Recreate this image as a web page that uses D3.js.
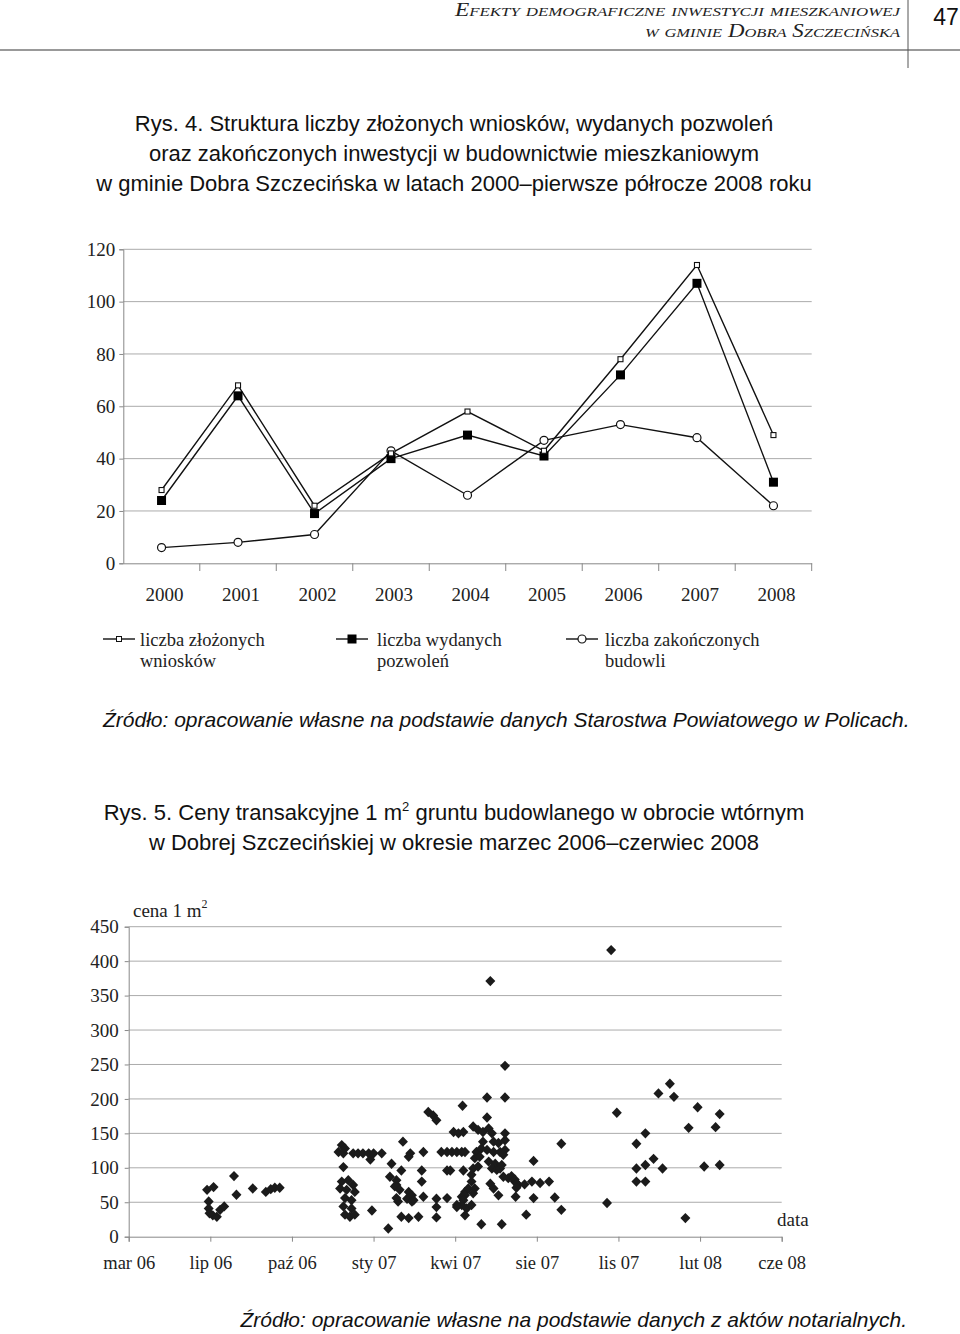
<!DOCTYPE html>
<html><head><meta charset="utf-8">
<script src="https://cdn.jsdelivr.net/npm/d3@7"></script>
<style>body{margin:0;background:#fff}</style>
</head><body>
<svg id="c" width="960" height="1334" xmlns="http://www.w3.org/2000/svg"></svg>
<script>
// ---------- Chart 1 data ----------
const years = ["2000","2001","2002","2003","2004","2005","2006","2007","2008"];
const wnioski = [28, 68, 22, 42, 58, 43, 78, 114, 49];      // liczba złożonych wniosków
const pozwolenia = [24, 64, 19, 40, 49, 41, 72, 107, 31];   // liczba wydanych pozwoleń
const budowle = [6, 8, 11, 43, 26, 47, 53, 48, 22];         // liczba zakończonych budowli
const yTicks1 = [0, 20, 40, 60, 80, 100, 120];
const legendNames = [["liczba złożonych","wniosków"],["liczba wydanych","pozwoleń"],["liczba zakończonych","budowli"]];

// ---------- Chart 2 data (dates as Excel serial numbers) ----------
const xTickSerials = [38800, 38900, 39000, 39100, 39200, 39300, 39400, 39500, 39600];
const xTickLabels2 = ["mar 06","lip 06","paź 06","sty 07","kwi 07","sie 07","lis 07","lut 08","cze 08"];
const yTicks2 = [0, 50, 100, 150, 200, 250, 300, 350, 400, 450];
const txDates = [
 38896,38904,38898,38898,38899,38903,38908,38912,38917,38929,38932,38952,38968,38974,38979,38985,
 39061,39057,39063,39065,39075,39081,39087,39094,39100,39110,39096,39063,39122,
 39061,39069,39075,39059,39067,39077,39065,39073,39063,39073,39065,39071,39077,39098,39118,
 39167,39173,39177,39136,39145,39143,39161,39183,39190,39196,39202,39208,39212,
 39134,39159,39190,39194,39159,39128,39143,39141,39147,39161,39130,39177,39190,39177,39202,
 39134,39143,39155,39177,39120,39128,39126,39132,39128,39147,39149,39210,39212,39208,
 39209,39239,39261,39239,39222,39228,39234,39241,39245,39198,39204,39210,39261,39261,
 39234,39247,39253,39226,39232,39239,39247,39255,39261,39224,39230,39241,39249,
 39222,39228,39220,39245,39251,39255,39259,39265,39273,39277,39220,39216,39212,39210,39208,
 39243,39247,39224,39222,39253,39202,39214,39220,39212,39232,39257,39243,39261,39259,39257,
 39330,39296,39269,39273,39275,39275,39274,39285,39294,39304,39315,39296,39322,39330,39287,
 39386,39391,39398,39422,39433,39422,39433,39443,39454,39422,39433,39449,39463,39468,39482,
 39486,39497,39505,39519,39524,39524
];
const txPrices = [
 68,72,51,41,34,31,29,39,44,88,61,70,65,69,71,71,
 133,123,121,128,121,121,121,121,121,121,112,101,106,
 80,82,75,70,68,65,56,53,44,41,32,29,32,38,12,
 181,176,169,138,121,116,123,123,123,123,123,123,123,
 96,96,96,96,80,75,65,55,51,58,51,55,56,43,43,
 29,27,29,28,87,82,73,68,56,60,53,96,65,58,
 190,202,202,173,160,155,152,157,150,152,150,152,150,140,
 138,138,136,123,128,126,123,123,126,114,116,109,106,
 99,102,90,99,97,99,87,85,80,75,80,70,60,53,46,
 77,70,70,63,60,46,41,46,31,18,18,371,248,119,104,
 135,110,88,83,78,71,58,76,80,78,80,56,57,39,32,
 49,416,180,135,150,99,104,113,99,80,80,208,222,203,27,
 158,188,102,159,178,104
];

const svg = d3.select("#c");
const serif = "'Liberation Serif','Times New Roman',serif";
const sans = "'Liberation Sans',Arial,sans-serif";
const gridCol = "#ababab";

// ---------- Header ----------
svg.append("text").attr("x", 900).attr("y", 16).attr("text-anchor","end")
  .attr("font-family", serif).attr("font-style","italic").attr("font-size",18)
  .attr("textLength",445).attr("lengthAdjust","spacingAndGlyphs")
  .style("font-variant","small-caps").attr("fill","#222")
  .text("Efekty demograficzne inwestycji mieszkaniowej");
svg.append("text").attr("x", 900).attr("y", 37).attr("text-anchor","end")
  .attr("font-family", serif).attr("font-style","italic").attr("font-size",18)
  .attr("textLength",255).attr("lengthAdjust","spacingAndGlyphs")
  .style("font-variant","small-caps").attr("fill","#222")
  .text("w gminie Dobra Szczecińska");
svg.append("text").attr("x", 946).attr("y", 25).attr("text-anchor","middle")
  .attr("font-family","'Liberation Sans Narrow','Arial Narrow',sans-serif").attr("font-size",23)
  .attr("fill","#111").text("47");
svg.append("line").attr("x1",0).attr("x2",960).attr("y1",50).attr("y2",50).attr("stroke","#777").attr("stroke-width",1.5);
svg.append("line").attr("x1",908).attr("x2",908).attr("y1",0).attr("y2",68).attr("stroke","#555").attr("stroke-width",1);

// ---------- Title 1 ----------
const t1 = ["Rys. 4. Struktura liczby złożonych wniosków, wydanych pozwoleń",
            "oraz zakończonych inwestycji w budownictwie mieszkaniowym",
            "w gminie Dobra Szczecińska w latach 2000–pierwsze półrocze 2008 roku"];
t1.forEach((s,i)=> svg.append("text").attr("x",454).attr("y",131+30*i).attr("text-anchor","middle")
  .attr("font-family",sans).attr("font-size",22).attr("fill","#111").text(s));

// ---------- Chart 1 ----------
const x1 = d3.scaleBand().domain(years).range([123.3, 811.7]);
const y1 = d3.scaleLinear().domain([0,120]).range([563.3, 249.3]);
const g1 = svg.append("g");
g1.selectAll("line.grid").data(yTicks1.filter(d=>d>0)).join("line")
  .attr("x1",123.3).attr("x2",811.7).attr("y1",d=>y1(d)).attr("y2",d=>y1(d))
  .attr("stroke",gridCol).attr("stroke-width",1);
const ax1 = g1.append("g").attr("transform","translate(123.3,0)")
  .call(d3.axisLeft(y1).tickValues(yTicks1).tickSize(4).tickPadding(4));
ax1.select(".domain").attr("stroke","#888");
ax1.selectAll(".tick line").attr("stroke","#888");
ax1.selectAll("text").attr("font-family",serif).attr("font-size",19).attr("fill","#222");
const bx1 = g1.append("g").attr("transform","translate(0,563.3)")
  .call(d3.axisBottom(x1).tickSize(0).tickPadding(0).tickFormat(d=>d));
bx1.select(".domain").attr("stroke","#888");
bx1.selectAll(".tick line").remove();
bx1.selectAll("text").attr("font-family",serif).attr("font-size",19).attr("fill","#222")
  .attr("dx",3).attr("y",38).attr("dy",0);
// category tick marks at band boundaries
g1.selectAll("line.tk").data(years.slice(1).concat(["end"])).join("line")
  .attr("x1",(d,i)=> x1.range()[0] + x1.step()*(i+1)).attr("x2",(d,i)=> x1.range()[0] + x1.step()*(i+1))
  .attr("y1",563.3).attr("y2",571).attr("stroke","#888");

const cx = d => x1(d) + x1.bandwidth()/2;
const line1 = d3.line().x((d,i)=>cx(years[i])).y(d=>y1(d));
[wnioski,pozwolenia,budowle].forEach(s=>{
  g1.append("path").attr("d",line1(s)).attr("fill","none").attr("stroke","#111").attr("stroke-width",1.4);
});
g1.selectAll("circle.b").data(budowle).join("circle")
  .attr("cx",(d,i)=>cx(years[i])).attr("cy",d=>y1(d)).attr("r",4)
  .attr("fill","#fff").attr("stroke","#111").attr("stroke-width",1.2);
g1.selectAll("rect.p").data(pozwolenia).join("rect")
  .attr("x",(d,i)=>cx(years[i])-4.5).attr("y",d=>y1(d)-4.5).attr("width",9).attr("height",9).attr("fill","#000");
g1.selectAll("rect.w").data(wnioski).join("rect")
  .attr("x",(d,i)=>cx(years[i])-2.5).attr("y",d=>y1(d)-2.5).attr("width",5).attr("height",5)
  .attr("fill","#fff").attr("stroke","#111").attr("stroke-width",1.1);

// legend
const legX = [103, 336, 566];
legendNames.forEach((nm,i)=>{
  const lg = svg.append("g");
  lg.append("line").attr("x1",legX[i]).attr("x2",legX[i]+32).attr("y1",639).attr("y2",639).attr("stroke","#111").attr("stroke-width",1.4);
  const mx = legX[i]+16;
  if(i===0) lg.append("rect").attr("x",mx-2.5).attr("y",636.5).attr("width",5).attr("height",5).attr("fill","#fff").attr("stroke","#111");
  if(i===1) lg.append("rect").attr("x",mx-4.5).attr("y",634.5).attr("width",9).attr("height",9).attr("fill","#000");
  if(i===2) lg.append("circle").attr("cx",mx).attr("cy",639).attr("r",4).attr("fill","#fff").attr("stroke","#111").attr("stroke-width",1.2);
  nm.forEach((s,j)=> lg.append("text").attr("x",legX[i]+(i===0?37:i===1?41:39)).attr("y",646+21*j)
    .attr("font-family",serif).attr("font-size",18.5).attr("fill","#222").text(s));
});

svg.append("text").attr("x",103).attr("y",727).attr("font-family",sans).attr("font-style","italic")
  .attr("font-size",21).attr("fill","#111").text("Źródło: opracowanie własne na podstawie danych Starostwa Powiatowego w Policach.");

// ---------- Title 2 ----------
const tt = svg.append("text").attr("x",454).attr("y",820).attr("text-anchor","middle")
  .attr("font-family",sans).attr("font-size",22).attr("fill","#111");
tt.append("tspan").text("Rys. 5. Ceny transakcyjne 1 m");
tt.append("tspan").attr("font-size",13).attr("dy",-9).text("2");
tt.append("tspan").attr("dy",9).text(" gruntu budowlanego w obrocie wtórnym");
svg.append("text").attr("x",454).attr("y",850).attr("text-anchor","middle")
  .attr("font-family",sans).attr("font-size",22).attr("fill","#111")
  .text("w Dobrej Szczecińskiej w okresie marzec 2006–czerwiec 2008");

// ---------- Chart 2 ----------
const x2 = d3.scaleLinear().domain([38800,39600]).range([128.7, 781.7]);
const y2 = d3.scaleLinear().domain([0,450]).range([1236.7, 926.7]);
const g2 = svg.append("g");
g2.selectAll("line.grid").data(yTicks2.filter(d=>d>0)).join("line")
  .attr("x1",128.7).attr("x2",781.7).attr("y1",d=>y2(d)).attr("y2",d=>y2(d))
  .attr("stroke",gridCol).attr("stroke-width",1);
const ax2 = g2.append("g").attr("transform","translate(128.7,0)")
  .call(d3.axisLeft(y2).tickValues(yTicks2).tickSize(4).tickPadding(6));
ax2.select(".domain").attr("stroke","#888");
ax2.selectAll(".tick line").attr("stroke","#888");
ax2.selectAll("text").attr("font-family",serif).attr("font-size",19).attr("fill","#222");
const bx2 = g2.append("g").attr("transform","translate(0,1236.7)")
  .call(d3.axisBottom(x2).tickValues(xTickSerials).tickSize(5).tickPadding(0)
    .tickFormat((d,i)=>xTickLabels2[i]));
bx2.select(".domain").attr("stroke","#888");
bx2.selectAll(".tick line").attr("stroke","#888");
bx2.selectAll("text").attr("font-family",serif).attr("font-size",18.5).attr("fill","#222")
  .attr("y",32).attr("dy",0);

const diamond = "M0,-5.2L5,0L0,5.2L-5,0Z";
g2.selectAll("path.pt").data(txDates).join("path")
  .attr("d",diamond).attr("transform",(d,i)=>`translate(${x2(d)},${y2(txPrices[i])})`)
  .attr("fill","#1b1b1b");

const cl = svg.append("text").attr("x",133).attr("y",917).attr("font-family",serif)
  .attr("font-size",19).attr("fill","#222");
cl.append("tspan").text("cena 1 m");
cl.append("tspan").attr("font-size",12).attr("dy",-9).text("2");
svg.append("text").attr("x",777).attr("y",1226).attr("font-family",serif)
  .attr("font-size",19).attr("fill","#222").text("data");

svg.append("text").attr("x",907).attr("y",1327).attr("text-anchor","end").attr("font-family",sans)
  .attr("font-style","italic").attr("font-size",21).attr("fill","#111")
  .text("Źródło: opracowanie własne na podstawie danych z aktów notarialnych.");
</script>
</body></html>
